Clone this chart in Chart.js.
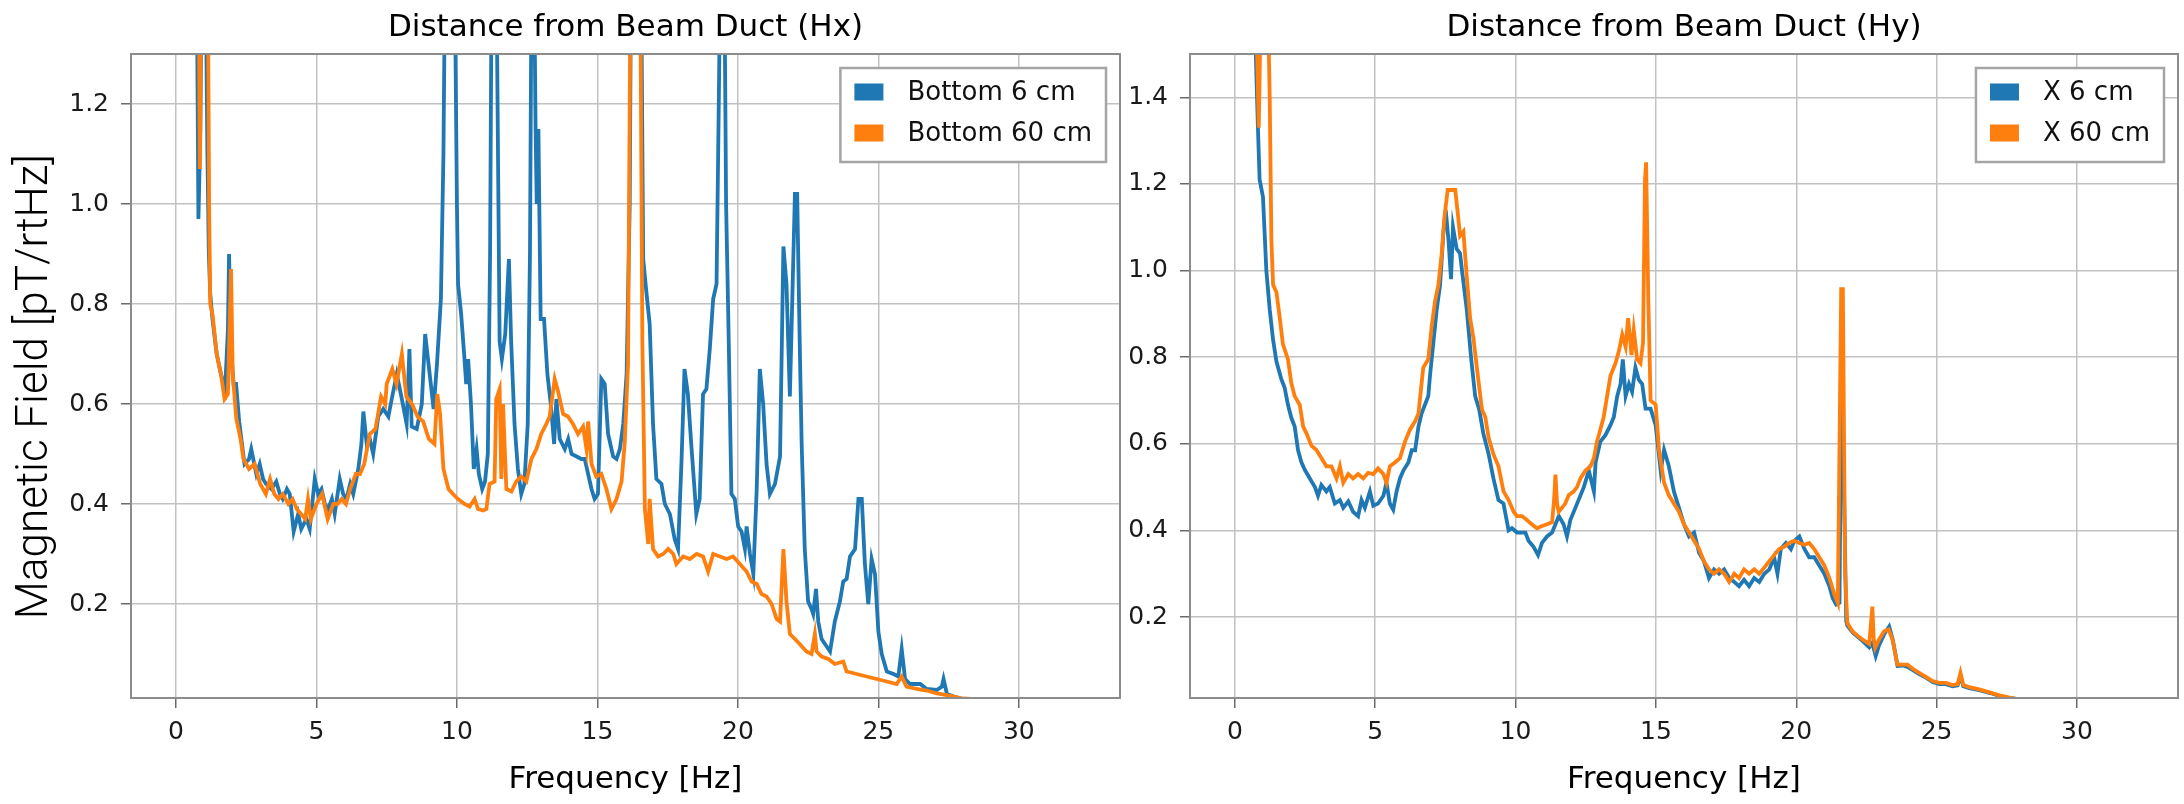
<!DOCTYPE html>
<html>
<head>
<meta charset="utf-8">
<script src="https://cdn.jsdelivr.net/npm/chart.js@4.4.0/dist/chart.umd.min.js"></script>
<style>
  html, body { margin: 0; padding: 0; background: #fff; }
  body { width: 2184px; height: 804px; position: relative; overflow: hidden; }
  .wrap { position: absolute; top: 0; height: 804px; }
  #wrapHx { left: 0; width: 1126px; }
  #wrapHy { left: 1126px; width: 1058px; }
</style>
</head>
<body>
<div class="wrap" id="wrapHx"><canvas id="chartHx"></canvas></div>
<div class="wrap" id="wrapHy"><canvas id="chartHy"></canvas></div>
<script>
// tick labels
const freqTicks = [0, 5, 10, 15, 20, 25, 30]
const hxTicks = [0.2, 0.4, 0.6, 0.8, 1.0, 1.2]
const hyTicks = [0.2, 0.4, 0.6, 0.8, 1.0, 1.2, 1.4]

// Hx : [frequency Hz, pT/rtHz]
const hxBottom6 = [[0.5,4.0],[0.7,1.8],[0.8,0.97],[0.87,1.15],[0.93,1.6],[1.05,1.5],[1.12,1.1],[1.17,0.9],[1.22,0.82],[1.3,0.77],[1.45,0.70],[1.6,0.66],[1.75,0.63],[1.85,0.75],[1.89,0.90],[1.95,0.72],[2.05,0.64],[2.14,0.64],[2.25,0.565],[2.44,0.48],[2.6,0.49],[2.68,0.51],[2.86,0.46],[2.98,0.48],[3.1,0.45],[3.21,0.44],[3.4,0.43],[3.57,0.445],[3.7,0.42],[3.8,0.41],[3.95,0.43],[4.05,0.42],[4.19,0.345],[4.35,0.38],[4.46,0.35],[4.64,0.37],[4.76,0.35],[4.94,0.45],[5.06,0.42],[5.18,0.43],[5.3,0.40],[5.42,0.39],[5.55,0.41],[5.65,0.38],[5.83,0.45],[5.95,0.42],[6.07,0.41],[6.2,0.44],[6.31,0.42],[6.49,0.47],[6.6,0.52],[6.67,0.585],[6.79,0.52],[6.9,0.53],[7.02,0.50],[7.2,0.575],[7.38,0.59],[7.56,0.575],[7.68,0.61],[7.86,0.66],[8.04,0.61],[8.21,0.56],[8.31,0.71],[8.39,0.555],[8.57,0.55],[8.75,0.60],[8.87,0.74],[9.05,0.65],[9.17,0.59],[9.29,0.68],[9.43,0.81],[9.52,1.1],[9.6,1.6],[9.75,2.0],[9.9,1.6],[10.0,1.0],[10.04,0.84],[10.15,0.78],[10.27,0.69],[10.33,0.64],[10.4,0.69],[10.5,0.60],[10.6,0.47],[10.7,0.51],[10.78,0.46],[10.9,0.43],[11.0,0.445],[11.1,0.50],[11.18,0.9],[11.25,1.6],[11.32,2.0],[11.4,1.5],[11.52,0.725],[11.6,0.69],[11.72,0.74],[11.85,0.89],[11.93,0.725],[12.05,0.56],[12.17,0.47],[12.29,0.42],[12.4,0.44],[12.52,0.56],[12.6,0.9],[12.66,1.5],[12.74,1.5],[12.8,1.15],[12.84,1.0],[12.9,1.15],[12.98,0.77],[13.1,0.77],[13.22,0.66],[13.34,0.60],[13.46,0.52],[13.54,0.61],[13.66,0.53],[13.84,0.51],[13.96,0.53],[14.08,0.50],[14.26,0.495],[14.43,0.49],[14.55,0.49],[14.67,0.46],[14.79,0.43],[14.9,0.41],[15.02,0.42],[15.14,0.65],[15.26,0.64],[15.38,0.54],[15.56,0.495],[15.68,0.49],[15.8,0.51],[15.92,0.56],[16.04,0.66],[16.15,1.0],[16.2,1.5],[16.55,1.5],[16.63,0.89],[16.75,0.82],[16.86,0.76],[16.98,0.56],[17.1,0.45],[17.28,0.44],[17.4,0.40],[17.58,0.38],[17.75,0.33],[17.87,0.31],[17.99,0.48],[18.1,0.67],[18.22,0.62],[18.34,0.52],[18.52,0.38],[18.64,0.41],[18.76,0.62],[18.88,0.63],[19.0,0.71],[19.12,0.81],[19.24,0.84],[19.32,1.2],[19.4,1.6],[19.5,1.6],[19.58,1.0],[19.66,0.77],[19.77,0.42],[19.89,0.41],[20.01,0.355],[20.13,0.345],[20.25,0.31],[20.31,0.355],[20.43,0.30],[20.55,0.26],[20.67,0.43],[20.78,0.67],[20.9,0.60],[21.02,0.48],[21.14,0.42],[21.32,0.44],[21.5,0.495],[21.62,0.915],[21.73,0.84],[21.85,0.615],[22.03,1.02],[22.11,1.02],[22.2,0.725],[22.27,0.52],[22.38,0.31],[22.5,0.205],[22.62,0.19],[22.68,0.18],[22.78,0.23],[22.86,0.165],[22.98,0.13],[23.16,0.115],[23.28,0.105],[23.45,0.165],[23.63,0.205],[23.75,0.245],[23.87,0.25],[23.99,0.295],[24.17,0.31],[24.29,0.41],[24.41,0.41],[24.52,0.28],[24.64,0.20],[24.76,0.29],[24.88,0.26],[25.0,0.145],[25.12,0.10],[25.3,0.065],[25.54,0.06],[25.71,0.055],[25.83,0.11],[25.95,0.05],[26.13,0.04],[26.49,0.04],[26.72,0.03],[27.08,0.028],[27.26,0.035],[27.32,0.05],[27.44,0.02],[27.68,0.015],[28.0,0.010],[29.0,0.007],[30.0,0.005],[32.0,0.004]]
const hxBottom60 = [[0.5,4.0],[0.75,2.0],[0.85,1.07],[0.95,1.8],[1.05,2.0],[1.12,1.6],[1.18,1.0],[1.22,0.80],[1.3,0.78],[1.45,0.70],[1.6,0.66],[1.73,0.61],[1.85,0.62],[1.96,0.87],[2.02,0.66],[2.15,0.57],[2.3,0.53],[2.4,0.49],[2.6,0.47],[2.8,0.48],[3.0,0.44],[3.2,0.42],[3.35,0.45],[3.5,0.42],[3.65,0.41],[3.8,0.42],[4.0,0.40],[4.15,0.41],[4.3,0.39],[4.45,0.38],[4.6,0.37],[4.7,0.41],[4.8,0.37],[5.0,0.40],[5.2,0.42],[5.4,0.37],[5.6,0.40],[5.75,0.40],[5.9,0.41],[6.05,0.40],[6.2,0.43],[6.4,0.46],[6.55,0.46],[6.7,0.48],[6.9,0.54],[7.1,0.55],[7.3,0.615],[7.45,0.60],[7.5,0.64],[7.7,0.67],[7.85,0.64],[8.04,0.70],[8.2,0.615],[8.4,0.60],[8.6,0.575],[8.8,0.565],[9.0,0.53],[9.2,0.52],[9.3,0.62],[9.4,0.58],[9.52,0.47],[9.7,0.43],[9.86,0.42],[10.04,0.41],[10.27,0.40],[10.45,0.395],[10.63,0.41],[10.75,0.39],[10.93,0.387],[11.05,0.39],[11.16,0.44],[11.34,0.445],[11.4,0.61],[11.52,0.63],[11.58,0.45],[11.64,0.60],[11.76,0.43],[11.94,0.425],[12.11,0.445],[12.29,0.455],[12.47,0.445],[12.65,0.49],[12.83,0.51],[13.0,0.54],[13.18,0.56],[13.3,0.575],[13.48,0.65],[13.6,0.625],[13.78,0.58],[13.95,0.575],[14.13,0.56],[14.31,0.54],[14.49,0.555],[14.61,0.51],[14.67,0.565],[14.79,0.48],[14.96,0.455],[15.14,0.46],[15.32,0.43],[15.5,0.39],[15.68,0.41],[15.86,0.445],[15.97,0.52],[16.09,0.68],[16.15,1.2],[16.21,1.6],[16.39,2.2],[16.51,1.6],[16.6,0.725],[16.69,0.39],[16.81,0.32],[16.86,0.41],[16.98,0.31],[17.16,0.295],[17.34,0.30],[17.52,0.31],[17.7,0.30],[17.81,0.28],[18.05,0.295],[18.29,0.29],[18.53,0.30],[18.76,0.295],[18.94,0.265],[19.12,0.30],[19.36,0.295],[19.6,0.29],[19.83,0.295],[20.07,0.28],[20.31,0.265],[20.49,0.245],[20.67,0.24],[20.84,0.22],[21.02,0.215],[21.2,0.20],[21.38,0.17],[21.5,0.165],[21.62,0.31],[21.73,0.205],[21.85,0.14],[22.03,0.13],[22.2,0.12],[22.44,0.105],[22.62,0.10],[22.74,0.14],[22.8,0.105],[22.98,0.095],[23.22,0.09],[23.45,0.08],[23.75,0.085],[23.87,0.065],[24.23,0.06],[24.58,0.055],[24.94,0.05],[25.3,0.045],[25.65,0.04],[25.83,0.055],[26.0,0.035],[26.37,0.03],[26.72,0.027],[27.08,0.021],[27.44,0.018],[27.68,0.015],[28.0,0.011],[29.0,0.008],[30.0,0.006],[32.0,0.005]]

// Hy : [frequency Hz, pT/rtHz]
const hyX6 = [[0.3,4.0],[0.7,1.6],[0.82,1.33],[0.88,1.21],[1.0,1.17],[1.12,1.0],[1.24,0.91],[1.36,0.84],[1.48,0.79],[1.65,0.75],[1.77,0.73],[1.89,0.69],[2.01,0.66],[2.13,0.64],[2.25,0.585],[2.37,0.557],[2.49,0.54],[2.67,0.52],[2.85,0.50],[2.96,0.48],[3.08,0.505],[3.26,0.49],[3.38,0.50],[3.56,0.462],[3.74,0.47],[3.86,0.452],[4.04,0.467],[4.21,0.443],[4.39,0.433],[4.51,0.47],[4.63,0.452],[4.81,0.49],[4.93,0.457],[5.1,0.462],[5.29,0.48],[5.4,0.51],[5.52,0.462],[5.64,0.448],[5.76,0.49],[5.88,0.52],[6.0,0.538],[6.18,0.557],[6.3,0.585],[6.42,0.585],[6.54,0.64],[6.65,0.67],[6.77,0.69],[6.89,0.71],[6.95,0.757],[7.07,0.833],[7.19,0.91],[7.31,0.967],[7.43,1.09],[7.51,1.14],[7.61,1.07],[7.7,0.98],[7.77,1.10],[7.9,1.05],[8.02,1.04],[8.1,0.995],[8.26,0.91],[8.42,0.795],[8.56,0.71],[8.7,0.68],[8.85,0.624],[9.04,0.576],[9.21,0.52],[9.39,0.47],[9.57,0.462],[9.75,0.40],[9.87,0.405],[10.05,0.395],[10.35,0.395],[10.46,0.376],[10.64,0.362],[10.8,0.343],[10.94,0.371],[11.12,0.386],[11.3,0.395],[11.42,0.414],[11.54,0.433],[11.71,0.414],[11.83,0.386],[11.95,0.424],[12.13,0.452],[12.25,0.471],[12.43,0.50],[12.61,0.538],[12.79,0.49],[12.85,0.557],[13.02,0.605],[13.2,0.62],[13.38,0.643],[13.5,0.662],[13.62,0.71],[13.74,0.738],[13.82,0.795],[13.92,0.71],[14.04,0.738],[14.15,0.72],[14.27,0.776],[14.39,0.748],[14.51,0.738],[14.63,0.681],[14.81,0.681],[14.99,0.643],[15.17,0.538],[15.29,0.586],[15.46,0.548],[15.64,0.49],[15.82,0.452],[16.0,0.414],[16.18,0.386],[16.36,0.395],[16.54,0.348],[16.71,0.329],[16.89,0.29],[17.07,0.31],[17.25,0.30],[17.43,0.31],[17.61,0.29],[17.79,0.281],[17.96,0.271],[18.14,0.286],[18.32,0.271],[18.5,0.29],[18.68,0.281],[18.86,0.30],[19.04,0.31],[19.21,0.338],[19.33,0.30],[19.45,0.357],[19.63,0.371],[19.81,0.357],[19.93,0.376],[20.11,0.386],[20.29,0.357],[20.46,0.338],[20.64,0.338],[20.82,0.319],[21.0,0.30],[21.18,0.271],[21.3,0.243],[21.42,0.229],[21.54,0.233],[21.62,0.85],[21.7,0.50],[21.78,0.19],[21.82,0.18],[22.0,0.165],[22.18,0.155],[22.36,0.145],[22.6,0.13],[22.71,0.14],[22.83,0.11],[22.95,0.135],[23.13,0.16],[23.31,0.178],[23.43,0.15],[23.61,0.087],[23.79,0.088],[23.96,0.085],[24.14,0.078],[24.38,0.068],[24.62,0.06],[24.86,0.05],[25.1,0.045],[25.33,0.045],[25.57,0.04],[25.75,0.042],[25.85,0.065],[25.95,0.04],[26.17,0.036],[26.52,0.031],[26.88,0.025],[27.24,0.018],[27.6,0.013],[27.95,0.010],[29.0,0.006],[32.0,0.004]]
const hyX60 = [[0.3,4.0],[0.76,1.6],[0.85,1.33],[0.92,1.6],[1.0,2.0],[1.08,1.5],[1.15,1.7],[1.24,1.4],[1.3,1.07],[1.36,0.967],[1.48,0.95],[1.6,0.89],[1.71,0.83],[1.89,0.795],[2.01,0.74],[2.13,0.71],[2.31,0.69],[2.43,0.64],[2.55,0.624],[2.73,0.595],[2.9,0.586],[3.08,0.567],[3.26,0.548],[3.44,0.548],[3.62,0.52],[3.74,0.548],[3.86,0.51],[4.04,0.53],[4.21,0.52],[4.39,0.53],[4.57,0.52],[4.75,0.533],[4.93,0.53],[5.1,0.543],[5.29,0.53],[5.4,0.51],[5.52,0.548],[5.7,0.557],[5.88,0.567],[6.06,0.605],[6.24,0.633],[6.42,0.652],[6.54,0.67],[6.71,0.776],[6.89,0.795],[7.01,0.871],[7.13,0.929],[7.25,0.967],[7.37,1.04],[7.46,1.12],[7.58,1.186],[7.73,1.186],[7.85,1.186],[7.96,1.12],[8.02,1.08],[8.14,1.09],[8.26,0.986],[8.38,0.89],[8.5,0.843],[8.62,0.776],[8.8,0.68],[8.92,0.662],[9.04,0.614],[9.21,0.576],[9.39,0.548],[9.57,0.49],[9.75,0.47],[9.93,0.443],[10.05,0.433],[10.23,0.433],[10.4,0.424],[10.58,0.414],[10.76,0.405],[10.94,0.41],[11.12,0.414],[11.3,0.419],[11.37,0.47],[11.42,0.529],[11.48,0.46],[11.54,0.443],[11.65,0.452],[11.77,0.462],[11.89,0.481],[12.07,0.49],[12.19,0.50],[12.31,0.52],[12.49,0.538],[12.67,0.548],[12.79,0.567],[12.9,0.605],[13.02,0.633],[13.14,0.662],[13.26,0.71],[13.38,0.757],[13.56,0.786],[13.68,0.814],[13.8,0.852],[13.92,0.824],[14.01,0.89],[14.13,0.805],[14.21,0.862],[14.33,0.795],[14.45,0.786],[14.54,0.833],[14.61,1.21],[14.65,1.25],[14.73,0.929],[14.81,0.70],[14.99,0.69],[15.11,0.586],[15.29,0.51],[15.46,0.481],[15.64,0.462],[15.82,0.443],[16.0,0.414],[16.18,0.395],[16.36,0.376],[16.54,0.357],[16.71,0.329],[16.89,0.31],[17.07,0.30],[17.25,0.31],[17.43,0.30],[17.61,0.281],[17.79,0.30],[17.96,0.29],[18.14,0.31],[18.32,0.30],[18.5,0.31],[18.68,0.30],[18.86,0.314],[19.04,0.329],[19.21,0.343],[19.39,0.357],[19.57,0.362],[19.75,0.371],[19.93,0.376],[20.11,0.371],[20.29,0.367],[20.46,0.371],[20.64,0.357],[20.82,0.338],[21.0,0.319],[21.18,0.29],[21.36,0.252],[21.48,0.233],[21.6,0.957],[21.66,0.957],[21.74,0.30],[21.82,0.186],[22.0,0.167],[22.18,0.157],[22.36,0.148],[22.6,0.138],[22.68,0.20],[22.71,0.224],[22.76,0.15],[22.81,0.129],[22.95,0.148],[23.13,0.167],[23.29,0.171],[23.43,0.148],[23.6,0.09],[23.79,0.09],[23.96,0.09],[24.14,0.081],[24.38,0.071],[24.62,0.062],[24.86,0.052],[25.1,0.048],[25.33,0.048],[25.57,0.043],[25.75,0.045],[25.85,0.071],[25.95,0.043],[26.17,0.038],[26.52,0.033],[26.88,0.026],[27.24,0.019],[27.6,0.014],[27.95,0.010],[28.3,0.008],[30.0,0.005],[32.0,0.004]]

const BLUE = '#1f77b4'
const ORANGE = '#ff7f0e'
const FONT = 'DejaVu Sans'

const toPoints = arr => arr.map(p => ({ x: p[0], y: p[1] }))

// frame around the plot + matplotlib-like legend box
const frameLegend = {
    id: 'frameLegend',
    afterDraw(chart, args, o) {
        const { ctx, chartArea: a } = chart
        ctx.save()
        ctx.strokeStyle = '#8c8c8c'
        ctx.lineWidth = 2
        ctx.strokeRect(a.left, a.top, a.right - a.left, a.bottom - a.top)

        ctx.font = `26px "${FONT}"`
        const sets = chart.data.datasets
        const textW = Math.max(...sets.map(d => ctx.measureText(d.label).width))
        const w = 14 + 29 + 24 + textW + 14
        const h = 94
        const x0 = a.right - 14 - w
        const y0 = a.top + 14
        ctx.fillStyle = '#fff'
        ctx.fillRect(x0, y0, w, h)
        ctx.strokeStyle = '#a5a5a5'
        ctx.lineWidth = 2.5
        ctx.strokeRect(x0, y0, w, h)
        ctx.textAlign = 'left'
        ctx.textBaseline = 'middle'
        sets.forEach((d, i) => {
            const cy = y0 + 24 + i * 41
            ctx.fillStyle = d.borderColor
            ctx.fillRect(x0 + 14, cy - 8.5, 29, 17)
            ctx.fillStyle = '#111'
            ctx.fillText(d.label, x0 + 14 + 29 + 24, cy + 1)
        })
        ctx.restore()
    }
}

const makeChart = (id, title, labels, series, yMin, yMax, yTicks, yAxisWidth, yTitle) => {
    const datasets = series.map((s, i) => ({
        label: labels[i],
        data: toPoints(s),
        borderColor: i === 0 ? BLUE : ORANGE,
        backgroundColor: i === 0 ? BLUE : ORANGE,
        borderWidth: 3.8,
        pointRadius: 0,
        tension: 0,
        fill: false,
        clip: 0,
        order: i === 0 ? 1 : 0,
    }))
    return new Chart(document.getElementById(id), {
        type: 'line',
        data: { datasets },
        options: {
            responsive: true,
            maintainAspectRatio: false,
            animation: false,
            events: [],
            layout: { padding: { left: 0, right: 6, top: 0, bottom: 0 } },
            plugins: {
                legend: { display: false },
                tooltip: { enabled: false },
                title: {
                    display: true,
                    text: title,
                    fullSize: false,
                    color: '#000',
                    font: { family: FONT, size: 31, weight: 'normal', lineHeight: '37px' },
                    padding: { top: 9, bottom: 8 },
                },
            },
            scales: {
                x: {
                    type: 'linear',
                    min: -1.6,
                    max: 33.6,
                    afterFit: s => { s.height = 106 },
                    afterBuildTicks: s => { s.ticks = freqTicks.map(v => ({ value: v })) },
                    grid: { color: '#c2c2c2', lineWidth: 1.5, tickLength: 10, tickColor: '#6a6a6a', tickWidth: 1.5 },
                    border: { display: false },
                    ticks: { color: '#1a1a1a', font: { family: FONT, size: 25 }, padding: 9, maxRotation: 0 },
                    title: { display: true, text: 'Frequency [Hz]', color: '#000', font: { family: FONT, size: 31 }, padding: { top: 0, bottom: 5 } },
                },
                y: {
                    type: 'linear',
                    min: yMin,
                    max: yMax,
                    afterFit: s => { s.width = yAxisWidth },
                    afterBuildTicks: s => { s.ticks = yTicks.map(v => ({ value: v })) },
                    grid: { color: '#c2c2c2', lineWidth: 1.5, tickLength: 10, tickColor: '#6a6a6a', tickWidth: 1.5 },
                    border: { display: false },
                    ticks: { color: '#1a1a1a', font: { family: FONT, size: 25 }, padding: 12, callback: v => v.toFixed(1) },
                    title: {
                        display: !!yTitle,
                        text: yTitle || '',
                        color: '#000',
                        font: { family: 'Roboto', size: 44, weight: 300, lineHeight: 1 },
                        padding: { top: 14, bottom: 0 },
                    },
                },
            },
        },
        plugins: [frameLegend],
    })
}

makeChart('chartHx', 'Distance from Beam Duct (Hx)', ['Bottom 6 cm', 'Bottom 60 cm'],
    [hxBottom6, hxBottom60], 0.012, 1.3, hxTicks, 131, 'Magnetic Field [pT/rtHz]  ')
makeChart('chartHy', 'Distance from Beam Duct (Hy)', ['X 6 cm', 'X 60 cm'],
    [hyX6, hyX60], 0.013, 1.5, hyTicks, 64, null)
</script>
</body>
</html>
